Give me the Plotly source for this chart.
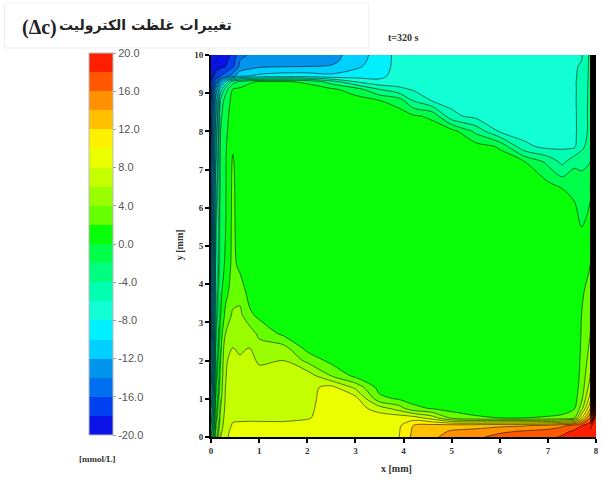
import plotly.graph_objects as go

# Grid coordinates (mm)
x_mm = [0, 0.1, 0.2, 0.3, 0.45, 0.6, 0.8, 1.0, 1.5, 2.0, 2.5, 3.0, 3.5, 3.9,
        4.2, 4.6, 5.0, 5.5, 6.0, 6.5, 7.0, 7.3, 7.55, 7.7, 7.88, 8.0]
y_mm = [0, 0.15, 0.3, 0.5, 0.75, 1.0, 1.3, 1.6, 2.0, 2.3, 2.7, 3.2, 3.8, 4.5,
        5.5, 6.5, 7.2, 7.6, 8.0, 8.4, 8.8, 9.1, 9.3, 9.45, 9.7, 9.85, 10]

# Electrolyte concentration change (mmol/L), one profile per x position, bottom to top
dc_by_x = [
    [-2, -3, -4, -5, -6, -7, -8, -9, -10, -10, -11, -11, -12, -12, -13, -13, -14, -14, -15, -15, -16, -17, -18, -19, -19.5, -20, -20],
    [3, 2.5, 2, 1.5, 1, 0.5, 0, -0.5, -1, -1.5, -2, -2.5, -3, -3.5, -4, -5, -6, -6.5, -7, -8, -9, -11, -15, -17, -19, -19.5, -20],
    [6, 5.5, 5, 4.5, 4, 3.5, 3, 2.5, 2, 1.5, 1, 0, -0.5, -1, -1.2, -1.4, -1.6, -1.8, -2, -2.5, -3.5, -7, -12, -16, -18.5, -19, -19.5],
    [7.5, 7.3, 7.0, 6.8, 6.4, 6.2, 6.0, 5.9, 5.8, 5.5, 4.0, 2.5, 1.3, 0.3, -0.1, -0.2, -0.2, -0.3, -0.4, -0.6, -1.0, -3, -8, -15, -18, -18.5, -19],
    [8.8, 8.6, 8.2, 7.7, 7.4, 7.2, 7.0, 6.8, 6.5, 6.1, 5.0, 4.3, 3.0, 2.6, 2.5, 2.4, 2.2, 1.8, 1.0, 0.8, 0.5, 0.0, -3, -13, -16.5, -17, -17.5],
    [9.0, 8.8, 8.4, 7.6, 7.3, 7.1, 6.9, 6.7, 6.2, 5.8, 5.0, 4.5, 3.2, 1.5, 1.0, 1.0, 1.0, 1.0, 1.0, 1.0, 0.9, 0.4, -1.5, -10.5, -13.5, -14, -14.5],
    [9.1, 8.9, 8.5, 7.6, 7.3, 7.1, 6.9, 6.7, 6.4, 6.1, 5.2, 2.4, 1.2, 1.0, 1.0, 1.0, 1.0, 1.0, 1.0, 1.0, 1.0, 0.8, -0.3, -10, -12.8, -13.5, -13.8],
    [9.2, 9.0, 8.6, 7.5, 7.2, 7.0, 6.8, 6.5, 5.8, 5.0, 3.5, 1.5, 1.1, 1.0, 1.0, 1.0, 1.0, 1.0, 1.0, 1.0, 1.0, 0.9, 0.2, -9.5, -12.3, -13.4, -13.6],
    [9.3, 9.1, 8.7, 7.4, 7.1, 6.9, 6.6, 6.3, 6.0, 5.0, 1.6, 1.1, 1.0, 1.0, 1.0, 1.0, 1.0, 1.0, 1.0, 1.0, 1.0, 0.9, 0.2, -9, -12.1, -13.2, -13.4],
    [9.4, 9.2, 8.9, 7.8, 7.6, 7.5, 7.4, 7.2, 3.5, 1.5, 1.1, 1.0, 1.0, 1.0, 1.0, 1.0, 1.0, 1.0, 1.0, 1.0, 1.0, 0.8, -0.3, -9, -12, -13.1, -13.4],
    [9.4, 9.3, 9.1, 9.0, 8.9, 8.8, 8.6, 4.0, 1.4, 1.1, 1.0, 1.0, 1.0, 1.0, 1.0, 1.0, 1.0, 1.0, 1.0, 1.0, 1.0, 0.4, -3, -9.5, -11.8, -12.6, -12.8],
    [9.4, 9.3, 9.2, 9.1, 9.0, 8.8, 5.5, 1.5, 1.1, 1.0, 1.0, 1.0, 1.0, 1.0, 1.0, 1.0, 1.0, 1.0, 1.0, 1.0, 0.9, -1.0, -6, -9, -10.4, -10.8, -11],
    [9.5, 9.4, 9.3, 9.2, 7.0, 2.6, 1.2, 1.0, 1.0, 1.0, 1.0, 1.0, 1.0, 1.0, 1.0, 1.0, 1.0, 1.0, 1.0, 1.0, 0.1, -4, -7.5, -8.5, -9, -9.1, -9.2],
    [9.9, 9.8, 9.6, 9.3, 5.0, 1.8, 1.1, 1.0, 1.0, 1.0, 1.0, 1.0, 1.0, 1.0, 1.0, 1.0, 1.0, 1.0, 1.0, 0.9, -0.8, -5.5, -7, -7.2, -7.3, -7.3, -7.3],
    [12.5, 12.3, 12.0, 9.0, 2.6, 1.2, 1.0, 1.0, 1.0, 1.0, 1.0, 1.0, 1.0, 1.0, 1.0, 1.0, 1.0, 1.0, 1.0, 0.3, -4, -6.2, -6.8, -7, -7, -7, -7],
    [13.6, 13.2, 12.8, 7.0, 1.8, 1.1, 1.0, 1.0, 1.0, 1.0, 1.0, 1.0, 1.0, 1.0, 1.0, 1.0, 1.0, 1.0, 1.0, -0.4, -6.1, -6.8, -7, -7, -7, -7, -7],
    [14.8, 14.2, 13.0, 3.5, 1.2, 1.0, 1.0, 1.0, 1.0, 1.0, 1.0, 1.0, 1.0, 1.0, 1.0, 1.0, 1.0, 1.0, 0.9, -5.5, -6.6, -6.9, -7, -7, -7, -7, -7],
    [15.5, 14.6, 13.2, 2.3, 1.1, 1.0, 1.0, 1.0, 1.0, 1.0, 1.0, 1.0, 1.0, 1.0, 1.0, 1.0, 1.0, 0.9, -2.5, -6.6, -7, -7, -7, -7, -7, -7, -7],
    [16.8, 15.5, 13.5, 2.0, 1.0, 1.0, 1.0, 1.0, 1.0, 1.0, 1.0, 1.0, 1.0, 1.0, 1.0, 1.0, 0.9, -0.2, -6.2, -6.9, -6.9, -6.9, -6.9, -6.9, -6.9, -6.9, -6.9],
    [17.2, 16.2, 13.8, 2.0, 1.0, 1.0, 1.0, 1.0, 1.0, 1.0, 1.0, 1.0, 1.0, 1.0, 1.0, 1.0, 0.2, -5.5, -6.8, -6.9, -6.9, -6.9, -6.9, -6.9, -6.9, -6.9, -6.9],
    [17.6, 16.8, 14.5, 2.2, 1.0, 1.0, 1.0, 1.0, 1.0, 1.0, 1.0, 1.0, 1.0, 1.0, 1.0, 0.9, -2.5, -6.5, -6.8, -6.8, -6.8, -6.8, -6.8, -6.8, -6.8, -6.8, -6.8],
    [18.2, 17.5, 15.5, 2.5, 1.1, 1.0, 1.0, 1.0, 1.0, 1.0, 1.0, 1.0, 1.0, 1.0, 1.0, 0.0, -4.5, -6.3, -6.5, -6.6, -6.6, -6.6, -6.6, -6.6, -6.6, -6.6, -6.6],
    [18.8, 18.3, 17.0, 4.0, 1.8, 1.2, 1.0, 1.0, 1.0, 1.0, 1.0, 1.0, 1.0, 1.0, 0.8, -0.4, -2.5, -6.3, -6.4, -6.4, -6.3, -6.3, -6.2, -6.2, -6.2, -6.2, -6.2],
    [19.3, 19.0, 18.0, 10.0, 5.0, 3.5, 2.8, 2.5, 2.3, 2.2, 2.1, 2.0, 1.6, 0.8, 0.0, -1.0, -2.5, -4.5, -5.0, -5.0, -5.1, -5.2, -5.4, -5.6, -5.8, -6.0, -6.2],
    [19.8, 19.6, 19.3, 16.0, 12.0, 9.0, 7.0, 6.0, 5.0, 4.5, 4.0, 3.5, 3.0, 2.0, 1.0, -0.5, -2.0, -3.0, -3.5, -3.5, -3.5, -3.5, -3.5, -3.5, -3.5, -3.5, -3.5],
    [20, 20, 20, 20, 20, 20, 20, 20, 20, 20, 20, 20, 20, 20, 20, 20, 20, 20, 20, 20, 20, 20, 20, 20, 20, 20, 20],
]

# Fill colour of each 2 mmol/L band, from -20..-18 up to 18..20
band_colors = ["#0a12e6", "#0040f0", "#0070f0", "#0094ec", "#00d0ff",
               "#00f0ff", "#12ffd6", "#00ffb0", "#00ff80", "#00ff48",
               "#08ff08", "#66ff00", "#99ff00", "#c4ff00", "#ecff00",
               "#fff000", "#ffc000", "#ff9000", "#ff5800", "#ff1e00"]
band_edges = [-20, -18, -16, -14, -12, -10, -8, -6, -4, -2, 0,
              2, 4, 6, 8, 10, 12, 14, 16, 18, 20]

cbar_ticks = [-20, -16, -12, -8, -4, 0, 4, 8, 12, 16, 20]
cbar_labels = ["-20.0", "-16.0", "-12.0", "-8.0", "-4.0", "0.0", "4.0", "8.0", "12.0", "16.0", "20.0"]
x_ticks = [0, 1, 2, 3, 4, 5, 6, 7, 8]
y_ticks = [0, 1, 2, 3, 4, 5, 6, 7, 8, 9, 10]

# z is indexed [y][x] for the contour trace
z_grid = [list(row) for row in zip(*dc_by_x)]
n_bands = len(band_colors)
# contour fill: band k takes the colour found at k/(n-1)
fill_scale = [[k / (n_bands - 1), c] for k, c in enumerate(band_colors)]
# stepped scale for the legend bar, one flat step per band
lo, hi = band_edges[0], band_edges[-1]
bar_scale = []
for k, c in enumerate(band_colors):
    bar_scale.append([(band_edges[k] - lo) / (hi - lo), c])
    bar_scale.append([(band_edges[k + 1] - lo) / (hi - lo), c])

W, H = 602, 478
ML, MR, MT, MB = 211, 3, 55, 41
PW, PH = W - ML - MR, H - MT - MB


def px_x(px):
    return (px - ML) / PW


def px_y(py):
    return (H - MB - py) / PH


serif = "Liberation Serif"

fig = go.Figure()
fig.add_trace(go.Contour(
    x=x_mm, y=y_mm, z=z_grid,
    autocontour=False,
    contours=dict(start=-18, end=18, size=2, coloring="fill", showlines=True),
    line=dict(color="rgba(0,0,0,0.55)", width=1, smoothing=0.9),
    colorscale=fill_scale,
    showscale=False,
    hoverinfo="skip",
))

# Finer isolines in the thin boundary layers at the two side walls
for cols, step, col in [(slice(-2, None), 0.5, "rgba(10,0,0,0.7)"),
                        (slice(0, 3), 1.0, "rgba(0,40,60,0.4)")]:
    fig.add_trace(go.Contour(
        x=x_mm[cols], y=y_mm, z=[row[cols] for row in z_grid],
        autocontour=False,
        contours=dict(start=-19.5, end=19.5, size=step, coloring="none", showlines=True),
        line=dict(color=col, width=1, smoothing=0),
        showscale=False, hoverinfo="skip",
    ))

# Legend bar for the concentration bands
fig.add_trace(go.Scatter(
    x=[None], y=[None], mode="markers",
    marker=dict(
        color=[0], cmin=lo, cmax=hi, colorscale=bar_scale, showscale=True,
        colorbar=dict(
            x=px_x(88), xanchor="left", xpad=0,
            y=px_y(53), yanchor="top", ypad=0,
            len=(435 - 53) / PH, lenmode="fraction",
            thickness=24, thicknessmode="pixels",
            tickmode="array", tickvals=cbar_ticks, ticktext=cbar_labels,
            ticks="outside", ticklen=3, tickcolor="#999",
            tickfont=dict(family="Liberation Sans", size=11, color="#555"),
            outlinewidth=1, outlinecolor="#bbbbbb",
        ),
    ),
    hoverinfo="skip", showlegend=False,
))

fig.update_layout(
    width=W, height=H,
    margin=dict(l=ML, r=MR, t=MT, b=MB),
    paper_bgcolor="white", plot_bgcolor="white",
    showlegend=False,
    xaxis=dict(range=[0, 8], tickvals=x_ticks, ticks="outside", ticklen=4, tickwidth=1.5,
               tickcolor="black", showline=True, linecolor="black", linewidth=2,
               showgrid=False, zeroline=False,
               tickfont=dict(family=serif, size=9, color="#333", weight="bold")),
    yaxis=dict(range=[0, 10], tickvals=y_ticks, ticks="outside", ticklen=4, tickwidth=1.5,
               tickcolor="black", showline=True, linecolor="black", linewidth=2,
               showgrid=False, zeroline=False,
               tickfont=dict(family=serif, size=9, color="#333", weight="bold")),
)

fig.add_shape(type="rect", xref="paper", yref="paper",
              x0=px_x(3), x1=px_x(370), y0=px_y(48), y1=px_y(3),
              line=dict(color="#efefef", width=1), fillcolor="rgba(0,0,0,0)", layer="below")

annotations = [
    dict(text="(Δc)", x=px_x(38), y=px_y(27),
         font=dict(family=serif, size=20, color="#222", weight="bold")),
    dict(text="تغییرات غلظت الکترولیت", x=px_x(145), y=px_y(25),
         font=dict(family="DejaVu Sans", size=14, color="#222", weight="bold")),
    dict(text="t=320 s", x=px_x(405), y=px_y(37),
         font=dict(family=serif, size=10, color="#333", weight="bold")),
    dict(text="y [mm]", x=px_x(179), y=px_y(245), textangle=-90,
         font=dict(family=serif, size=10, color="#333", weight="bold")),
    dict(text="x [mm]", x=px_x(398), y=px_y(468),
         font=dict(family=serif, size=10, color="#333", weight="bold")),
    dict(text="[mmol/L]", x=px_x(97), y=px_y(459),
         font=dict(family=serif, size=9, color="#333", weight="bold")),
]
for a in annotations:
    fig.add_annotation(xref="paper", yref="paper", showarrow=False,
                       xanchor="center", yanchor="middle", **a)

fig.write_html("out.html")
